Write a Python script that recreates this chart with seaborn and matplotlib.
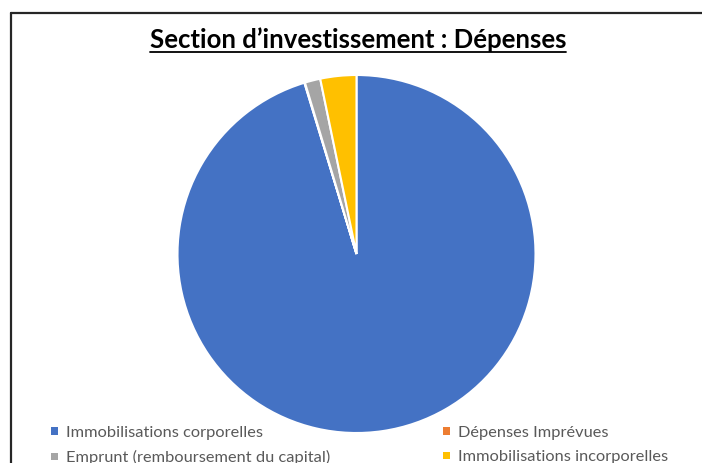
import matplotlib
matplotlib.use('Agg')
import matplotlib.pyplot as plt
from matplotlib.lines import Line2D
import seaborn as sns

# ─────────────────────────────────────────────
# DATA (in % of total)
# ─────────────────────────────────────────────
categories = ['Immobilisations corporelles', 'Dépenses Imprévues',
              'Emprunt (remboursement du capital)', 'Immobilisations incorporelles']
values = [95.3, 0.05, 1.4, 3.25]
colors = ['#4472C4', '#ED7D31', '#A5A5A5', '#FFC000']
title = 'Section d’investissement : Dépenses'

W, H = 702, 463

sns.set_theme(style='white')
plt.rcParams['font.family'] = ['Lato', 'DejaVu Sans']

fig = plt.figure(figsize=(W / 100, H / 100), dpi=100)
fig.patch.set_facecolor('white')

# pie axes: centre ~ (356.5, 254) px, radius ~179 px
cx, cy, r = 356.5, 254, 179
ax = fig.add_axes([(cx - r) / W, (H - cy - r) / H, 2 * r / W, 2 * r / H])
wedges, _ = ax.pie(values, colors=colors, startangle=90, counterclock=False,
                   radius=1, wedgeprops=dict(edgecolor='white', linewidth=1.5))
ax.set_xlim(-1, 1)
ax.set_ylim(-1, 1)
ax.set_aspect('equal')
ax.axis('off')

# title, underlined
t = fig.text(358 / W, 1 - 40 / H, title, ha='center', va='center',
             fontsize=18.5, fontweight='bold', color='black')
fig.canvas.draw()
bb = t.get_window_extent(fig.canvas.get_renderer())
uy = 1 - 52 / H
fig.add_artist(Line2D([bb.x0 / W, bb.x1 / W], [uy, uy], color='black', lw=1.3,
                      transform=fig.transFigure))

# legend: two columns, row-wise order
order = [0, 2, 1, 3]
leg = fig.legend([wedges[i] for i in order], [categories[i] for i in order],
                 ncol=2, loc='upper left', bbox_to_anchor=(51 / W, 1 - 426 / H),
                 frameon=False, fontsize=11.8, handlelength=0.4, handleheight=0.3,
                 handletextpad=0.5, columnspacing=6.9, labelspacing=0.63,
                 borderaxespad=0, borderpad=0)
for txt in leg.get_texts():
    txt.set_color('#595959')
for h in leg.legend_handles:
    h.set_edgecolor('none')

# chart frame (left and top edges visible)
fc = '#262626'
fig.add_artist(Line2D([11 / W, 11 / W], [1 - 12.5 / H, 0], color=fc, lw=1.6,
                      transform=fig.transFigure))
fig.add_artist(Line2D([11 / W, 1], [1 - 12.5 / H, 1 - 12.5 / H], color=fc, lw=1.6,
                      transform=fig.transFigure))

fig.savefig('out.png', dpi=100)
